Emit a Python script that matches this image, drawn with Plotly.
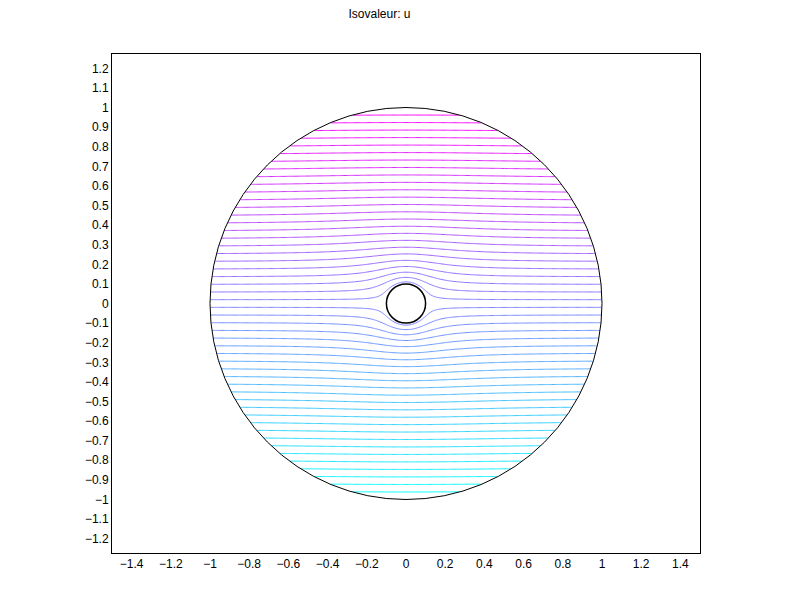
import numpy as np
import plotly.graph_objects as go

# --- chart parameters ---
title_text = "Isovaleur: u"
outer_radius = 1.0          # outer boundary of the domain
hole_radius = 0.1           # inner obstacle radius
n_isovalues = 50            # number of isolines drawn between -1 and 1
u_min, u_max = -1.0, 1.0

x_tick_vals = [-1.4, -1.2, -1.0, -0.8, -0.6, -0.4, -0.2, 0.0, 0.2, 0.4, 0.6, 0.8, 1.0, 1.2, 1.4]
x_tick_text = ["\u22121.4", "\u22121.2", "\u22121", "\u22120.8", "\u22120.6", "\u22120.4", "\u22120.2",
               "0", "0.2", "0.4", "0.6", "0.8", "1", "1.2", "1.4"]
y_tick_vals = [-1.2, -1.1, -1.0, -0.9, -0.8, -0.7, -0.6, -0.5, -0.4, -0.3, -0.2, -0.1, 0.0,
               0.1, 0.2, 0.3, 0.4, 0.5, 0.6, 0.7, 0.8, 0.9, 1.0, 1.1, 1.2]
y_tick_text = ["\u22121.2", "\u22121.1", "\u22121", "\u22120.9", "\u22120.8", "\u22120.7", "\u22120.6",
               "\u22120.5", "\u22120.4", "\u22120.3", "\u22120.2", "\u22120.1", "0",
               "0.1", "0.2", "0.3", "0.4", "0.5", "0.6", "0.7", "0.8", "0.9", "1", "1.1", "1.2"]

# --- field u on the annulus: potential flow around a cylinder, u = y on outer boundary, 0 on hole ---
n_grid = 361
xs = np.linspace(-outer_radius, outer_radius, n_grid)
ys = np.linspace(-outer_radius, outer_radius, n_grid)
X, Y = np.meshgrid(xs, ys)
R2 = X**2 + Y**2
with np.errstate(divide="ignore", invalid="ignore"):
    U = Y * (1 - hole_radius**2 / R2) / (1 - hole_radius**2)
U[(R2 > outer_radius**2) | (R2 < hole_radius**2)] = np.nan
Z = [[None if np.isnan(v) else round(float(v), 5) for v in row] for row in U]

step = (u_max - u_min) / (n_isovalues + 1)

fig = go.Figure()
fig.add_trace(go.Contour(
    x=xs, y=ys, z=Z,
    zmin=u_min, zmax=u_max,
    contours=dict(start=u_min + step, end=u_max - step, size=step, coloring="lines"),
    colorscale=[[0, "rgb(0,255,255)"], [1, "rgb(255,0,255)"]],
    line=dict(width=1),
    showscale=False,
    connectgaps=False,
    hoverinfo="skip",
))

# domain boundaries
fig.add_shape(type="circle", xref="x", yref="y",
              x0=-outer_radius, x1=outer_radius, y0=-outer_radius, y1=outer_radius,
              line=dict(color="black", width=1))
fig.add_shape(type="circle", xref="x", yref="y",
              x0=-hole_radius, x1=hole_radius, y0=-hole_radius, y1=hole_radius,
              line=dict(color="black", width=1.5))

axis_font = dict(family="Liberation Sans, Arial, sans-serif", size=12, color="black")
fig.update_layout(
    width=800, height=600,
    margin=dict(l=104, r=108, t=46, b=55),
    paper_bgcolor="white", plot_bgcolor="white",
    showlegend=False,
    title=dict(text=title_text, x=371.5 / 800, xref="container", xanchor="center",
               y=1 - 6 / 600, yref="container", yanchor="middle",
               font=dict(family="Liberation Sans, Arial, sans-serif", size=12, color="black")),
    xaxis=dict(range=[-1.5, 1.5], tickmode="array", tickvals=x_tick_vals, ticktext=x_tick_text,
               showgrid=False, zeroline=False, showline=True, mirror=True,
               linecolor="black", linewidth=1, ticks="", tickfont=axis_font),
    yaxis=dict(range=[-1.273, 1.273], tickmode="array", tickvals=y_tick_vals, ticktext=y_tick_text,
               showgrid=False, zeroline=False, showline=True, mirror=True,
               linecolor="black", linewidth=1, ticks="", tickfont=axis_font),
)

fig.write_html("out.html")
